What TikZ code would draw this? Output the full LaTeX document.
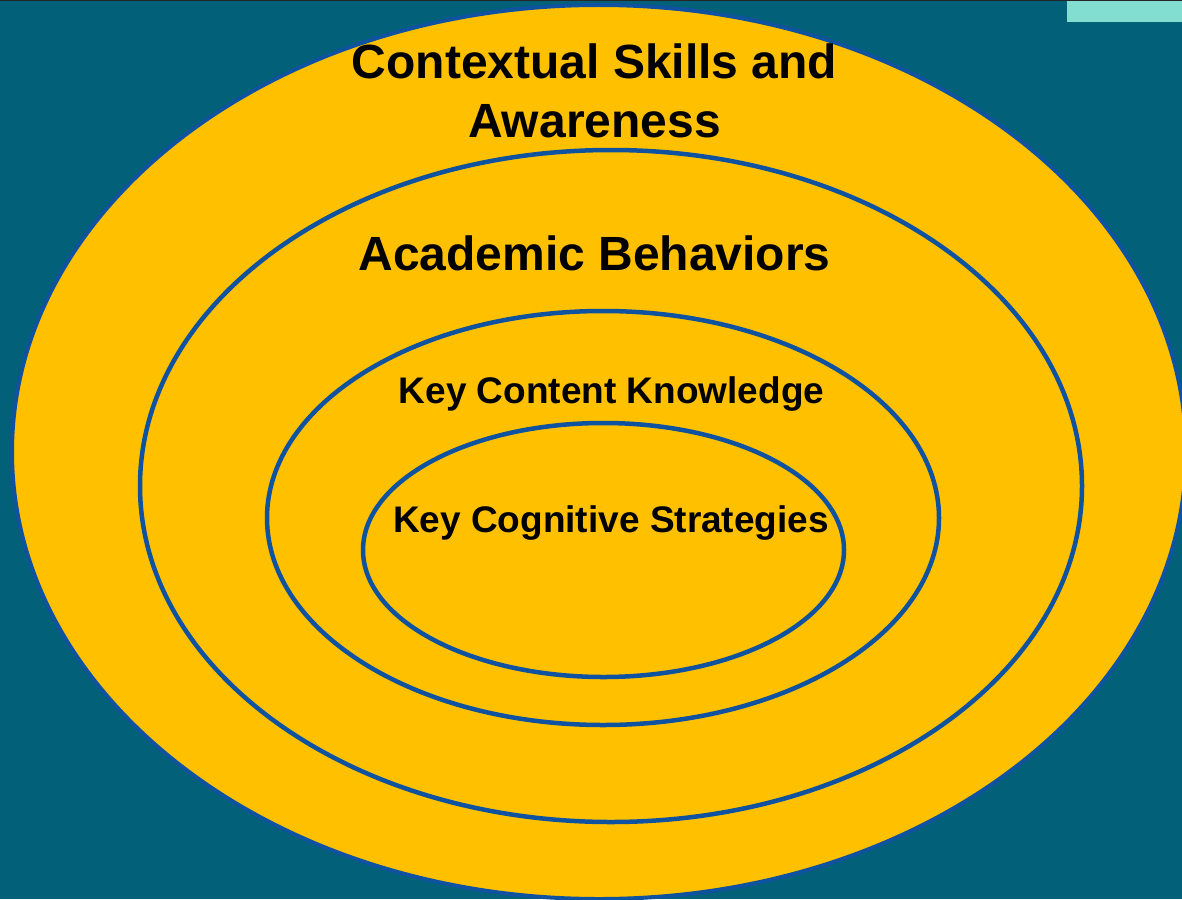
\documentclass[tikz,border=0pt]{standalone}
\usepackage{fontspec}
\setmainfont{Liberation Sans}
\usepackage{tikz}
\usetikzlibrary{positioning,shapes}
\definecolor{teal}{RGB}{2,96,120}
\definecolor{mint}{RGB}{130,222,208}
\definecolor{gold}{RGB}{255,192,0}
\definecolor{ring}{RGB}{14,82,160}

\begin{document}
\begin{tikzpicture}[x=1pt, y=-1pt]
	\useasboundingbox (0,0) rectangle (1182,899);
	\fill[teal] (0,0) rectangle (1182,899);
	\fill[black!85] (0,0) rectangle (1182,1.5);
	\fill[mint] (1067,1.5) rectangle (1182,22);

	\node[draw=ring, ellipse, fill=gold, line width=4pt, inner sep=0, minimum width=1174pt, minimum height=894pt] (ctx) at (599,452) {};
	\node[draw=ring, ellipse, fill=gold, line width=4.5pt, inner sep=0, minimum width=942pt, minimum height=672pt] (beh) at (611,486) {};
	\node[draw=ring, ellipse, fill=gold, line width=4.5pt, inner sep=0, minimum width=672pt, minimum height=414pt] (cont) at (603,518) {};
	\node[draw=ring, ellipse, fill=gold, line width=4.5pt, inner sep=0, minimum width=481pt, minimum height=254pt] (cogn) at (603.5,550) {};

	\node[anchor=base, inner sep=0, font=\fontsize{48}{59}\selectfont\bfseries] (ctxlbl) at (594.5,78) {Contextual Skills and};
	\node[anchor=base, inner sep=0, font=\fontsize{48}{59}\selectfont\bfseries] (ctxlbl2) at (594.5,137) {Awareness};
	\node[anchor=base, inner sep=0, font=\fontsize{48}{59}\selectfont\bfseries] (behlbl) at (594.5,270) {Academic Behaviors};
	\node[anchor=base, inner sep=0, font=\fontsize{37}{44}\selectfont\bfseries] (contlbl) at (611.5,403) {Key Content Knowledge};
	\node[anchor=base, inner sep=0, font=\fontsize{37}{44}\selectfont\bfseries] (cognlbl) at (611,532) {Key Cognitive Strategies};
\end{tikzpicture}
\end{document}
